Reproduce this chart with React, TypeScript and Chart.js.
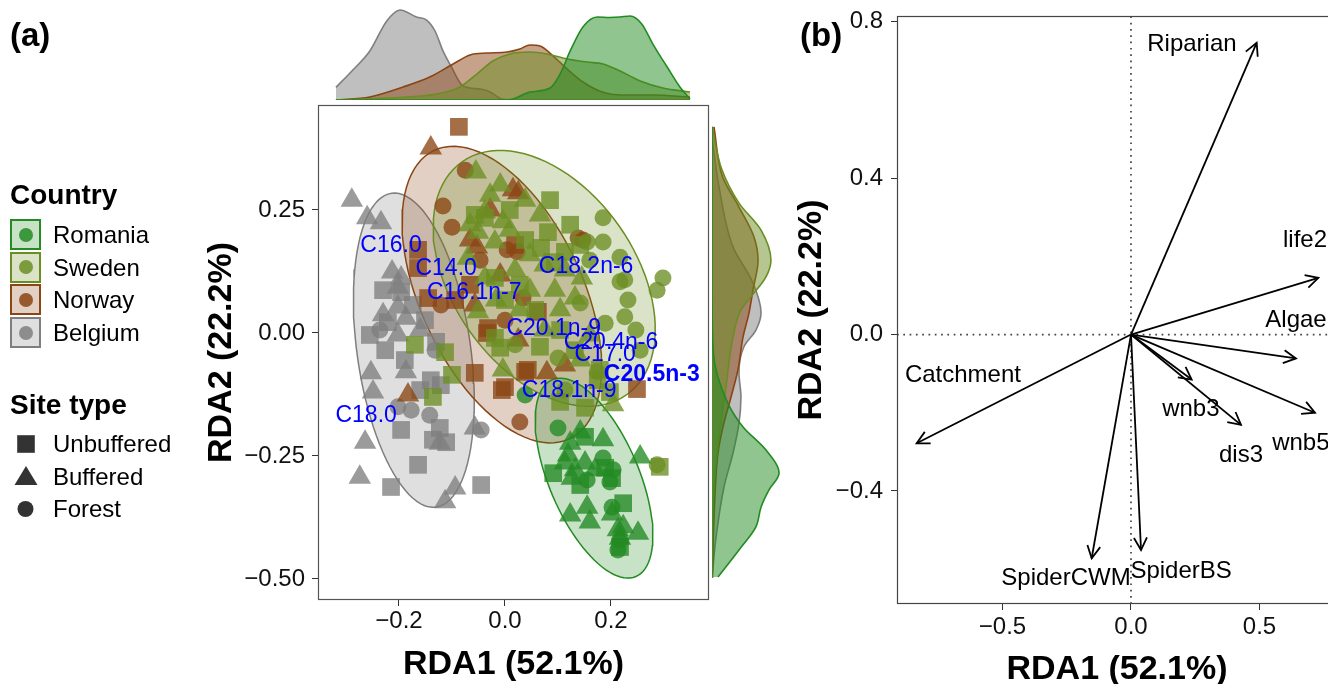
import React, { useEffect, useRef } from "react";
import { Chart, registerables } from "chart.js";

Chart.register(...registerables);

const FONT = "'Liberation Sans', Arial, Helvetica, sans-serif";
Chart.defaults.font.family = FONT;

type Pair = [number, number];

// ---------------- Panel (a): site scores (RDA1, RDA2) ----------------
const romaniaUnbuffered: Pair[] = [[0.091,-0.285],[0.142,-0.309],[0.189,-0.274],[0.223,-0.346],[0.217,-0.435],[0.151,-0.211],[0.202,-0.295]];
const romaniaBuffered: Pair[] = [[0.142,-0.201],[0.185,-0.217],[0.123,-0.224],[0.119,-0.248],[0.113,-0.264],[0.132,-0.278],[0.151,-0.264],[0.170,-0.278],[0.126,-0.295],[0.255,-0.252],[0.123,-0.370],[0.155,-0.354],[0.160,-0.384],[0.213,-0.400],[0.223,-0.394],[0.251,-0.407],[0.217,-0.417],[0.202,-0.368]];
const romaniaForest: Pair[] = [[0.100,-0.193],[0.185,-0.254],[0.204,-0.278],[0.155,-0.299],[0.198,-0.303],[0.202,-0.354],[0.213,-0.441],[0.038,-0.126],[0.217,-0.421]];

const swedenUnbuffered: Pair[] = [[-0.057,0.240],[-0.038,0.234],[-0.019,0.112],[-0.019,-0.010],[0.081,0.205],[0.068,0.173],[0.113,0.165],[-0.170,-0.024],[-0.113,-0.039],[-0.100,-0.085],[-0.136,-0.130],[-0.009,-0.030],[0.066,-0.028],[0.151,-0.152],[0.104,-0.140],[0.292,-0.272],[0.009,0.250],[0.038,0.189],[0.094,0.144],[0.028,0.098],[0.000,0.067],[0.057,0.047],[0.104,0.006],[0.132,-0.035],[0.179,-0.075],[0.175,-0.096],[0.085,0.270],[0.123,0.220],[0.142,0.179],[0.198,-0.120]];
const swedenBuffered: Pair[] = [[-0.055,0.327],[-0.009,0.301],[-0.038,0.246],[-0.004,0.226],[-0.051,0.205],[-0.019,0.185],[-0.070,0.152],[-0.038,0.112],[-0.051,0.043],[-0.004,-0.075],[0.204,-0.146],[0.145,0.112],[0.132,0.071],[0.038,0.270],[0.066,0.240],[0.047,0.159],[0.019,0.128],[0.094,0.087],[0.104,0.047],[0.075,0.006],[0.028,0.047],[0.160,-0.004],[0.009,0.209],[0.047,0.087],[0.113,0.128],[-0.066,0.220],[-0.028,0.280],[0.142,-0.055],[-0.017,0.067],[0.075,0.138]];
const swedenForest: Pair[] = [[0.185,0.234],[0.155,0.185],[0.217,0.154],[0.217,0.104],[0.226,0.108],[0.298,0.112],[0.287,0.087],[0.226,0.033],[0.189,0.020],[0.142,0.061],[0.100,-0.051],[0.174,-0.079],[0.287,-0.268],[0.185,0.185],[0.232,0.067],[0.247,0.006],[0.255,-0.035],[0.160,0.148],[0.019,-0.024],[0.113,-0.116]];

const norwayUnbuffered: Pair[] = [[-0.087,0.419],[-0.164,0.169],[-0.164,0.132],[-0.145,0.071],[-0.032,0.010],[0.019,0.179],[0.062,0.043],[-0.057,-0.081],[-0.006,-0.116],[0.038,-0.079],[0.000,-0.110],[0.249,-0.114],[-0.034,0.000],[0.043,-0.075],[-0.066,0.098],[-0.094,0.067]];
const norwayBuffered: Pair[] = [[-0.140,0.376],[-0.066,0.189],[-0.053,0.175],[0.015,0.291],[0.025,0.285],[-0.057,0.057],[0.025,-0.014],[0.079,-0.081],[0.113,-0.065],[-0.183,-0.126],[-0.009,0.118],[-0.028,0.250]];
const norwayForest: Pair[] = [[-0.075,0.331],[-0.117,0.258],[-0.100,0.215],[0.004,0.169],[0.023,0.165],[0.138,0.193],[0.147,0.189],[-0.121,0.057],[0.034,0.071],[0.028,-0.181],[0.000,0.026],[-0.047,0.148]];

const belgiumUnbuffered: Pair[] = [[-0.230,0.087],[-0.196,0.083],[-0.174,0.057],[-0.255,-0.004],[-0.226,-0.035],[-0.189,-0.055],[-0.140,-0.096],[-0.121,-0.106],[-0.196,-0.197],[-0.123,-0.193],[-0.136,-0.217],[-0.111,-0.222],[-0.164,-0.268],[-0.215,-0.313],[-0.045,-0.309],[-0.151,0.026],[-0.130,-0.018],[-0.221,0.022],[-0.160,-0.116]];
const belgiumBuffered: Pair[] = [[-0.289,0.270],[-0.260,0.234],[-0.234,0.224],[-0.213,0.124],[-0.196,0.112],[-0.202,0.093],[-0.230,0.037],[-0.202,0.053],[-0.187,0.030],[-0.202,-0.004],[-0.253,-0.081],[-0.249,-0.120],[-0.187,-0.079],[-0.264,-0.222],[-0.274,-0.293],[-0.123,-0.224],[-0.094,-0.315],[-0.113,-0.343],[-0.057,-0.193],[-0.160,0.006]];
const belgiumForest: Pair[] = [[-0.202,-0.150],[-0.177,-0.157],[-0.142,-0.167],[-0.045,-0.197],[-0.236,0.006],[-0.132,-0.035]];

// countries (legend order) and colours
const countries = ["Romania", "Sweden", "Norway", "Belgium"];
const countryColours: number[][] = [[34, 139, 34], [107, 142, 35], [139, 69, 19], [127, 127, 127]];
const siteTypes = ["Unbuffered", "Buffered", "Forest"];

// 95% ellipses: centre, semi-major vector, semi-minor vector (data units)
const ellipseCentres: Pair[] = [[0.168, -0.295], [0.074, 0.111], [-0.006, 0.078], [-0.172, -0.035]];
const ellipseMajor: Pair[] = [[0.079, -0.200], [0.155, -0.237], [0.128, -0.293], [0.042, -0.319]];
const ellipseMinor: Pair[] = [[0.078, 0.036], [0.141, 0.107], [0.138, 0.071], [0.106, 0.016]];

// fatty-acid labels
const fattyAcidNames = ["C16.0", "C14.0", "C16.1n-7", "C18.2n-6", "C20.1n-9", "C20.4n-6", "C17.0", "C20.5n-3", "C18.1n-9", "C18.0"];
const fattyAcidX = [-0.215, -0.111, -0.058, 0.153, 0.092, 0.200, 0.189, 0.277, 0.121, -0.262];
const fattyAcidY = [0.178, 0.130, 0.083, 0.134, 0.008, -0.020, -0.045, -0.085, -0.118, -0.169];
const fattyAcidBold = [false, false, false, false, false, false, false, true, false, false];

// marginal densities along RDA1 (x, density)
const topDensityRomania: Pair[] = [[-0.319,0],[-0.009,0],[0.015,0.07],[0.047,0.53],[0.085,0.8],[0.104,1.73],[0.123,3.27],[0.147,4.87],[0.174,5.53],[0.198,5.5],[0.217,5.53],[0.236,5.6],[0.258,5.07],[0.279,3.73],[0.306,2.2],[0.330,0.87],[0.349,0.07]];
const topDensitySweden: Pair[] = [[-0.319,0],[-0.223,0.13],[-0.128,0.4],[-0.085,0.87],[-0.053,1.73],[-0.023,2.6],[0.009,3.07],[0.047,3.2],[0.079,3.07],[0.117,2.73],[0.155,2.53],[0.185,2.4],[0.217,1.93],[0.255,1.27],[0.298,0.8],[0.349,0.53]];
const topDensityNorway: Pair[] = [[-0.319,0],[-0.255,0.2],[-0.192,0.87],[-0.142,1.53],[-0.098,2.4],[-0.066,3.0],[-0.034,3.13],[0.004,3.2],[0.028,3.4],[0.047,3.67],[0.066,3.6],[0.091,2.93],[0.117,2.07],[0.147,1.2],[0.185,0.51],[0.217,0.33],[0.279,0.33],[0.349,0.2]];
const topDensityBelgium: Pair[] = [[-0.319,0.84],[-0.287,2.0],[-0.255,3.27],[-0.223,5.27],[-0.198,6.0],[-0.167,5.53],[-0.148,5.33],[-0.132,4.6],[-0.117,3.27],[-0.101,2.2],[-0.079,0.93],[-0.047,0.73],[-0.028,0.53],[-0.006,0.07],[0.028,0],[0.349,0]];

// marginal densities along RDA2 (y, density)
const rightDensityRomania: Pair[] = [[0.419,0],[0.093,0],[-0.041,0.09],[-0.142,1.05],[-0.191,2.07],[-0.238,3.6],[-0.285,4.47],[-0.319,3.8],[-0.354,3.27],[-0.394,2.93],[-0.441,1.8],[-0.496,0.4]];
const rightDensitySweden: Pair[] = [[0.419,0],[0.331,0.67],[0.264,1.8],[0.209,3.27],[0.148,3.93],[0.114,3.6],[0.081,2.8],[0.047,1.93],[-0.008,1.4],[-0.110,0.93],[-0.211,0.47],[-0.313,0.13],[-0.498,0]];
const rightDensityNorway: Pair[] = [[0.419,0.13],[0.317,0.71],[0.256,1.8],[0.195,2.8],[0.148,3.07],[0.087,2.73],[0.041,2.47],[-0.008,2.07],[-0.075,1.73],[-0.130,1.27],[-0.191,0.73],[-0.244,0.4],[-0.380,0.13],[-0.498,0.03]];
const rightDensityBelgium: Pair[] = [[0.398,0],[0.297,0.47],[0.175,1.4],[0.102,2.73],[0.041,3.27],[0.006,2.93],[-0.028,2.13],[-0.081,1.8],[-0.130,1.93],[-0.183,1.8],[-0.244,1.4],[-0.313,0.8],[-0.415,0.27],[-0.498,0]];

// axes of panel (a)
const aXRange: Pair = [-0.3528, 0.3849];
const aYRange: Pair = [-0.5427, 0.4634];
const aXTicks = [-0.2, 0, 0.2];
const aXTickLabels = ["\u22120.2", "0.0", "0.2"];
const aYTicks = [-0.5, -0.25, 0, 0.25];
const aYTickLabels = ["\u22120.50", "\u22120.25", "0.00", "0.25"];

// ---------------- Panel (b): biplot arrows ----------------
const arrowNames = ["Riparian", "life2", "Algae", "Catchment", "SpiderCWM", "SpiderBS", "wnb3", "dis3", "wnb5"];
const arrowX = [0.489, 0.729, 0.642, -0.834, -0.153, 0.039, 0.236, 0.428, 0.716];
const arrowY = [0.746, 0.145, -0.061, -0.278, -0.572, -0.551, -0.115, -0.231, -0.200];
const arrowLabelX = [0.237, 0.677, 0.642, -0.654, -0.253, 0.195, 0.233, 0.428, 0.661];
const arrowLabelY = [0.743, 0.242, 0.037, -0.104, -0.623, -0.605, -0.191, -0.308, -0.277];

const bXRange: Pair = [-0.9105, 0.8016];
const bYRange: Pair = [-0.689, 0.8146];
const bXTicks = [-0.5, 0, 0.5];
const bXTickLabels = ["\u22120.5", "0.0", "0.5"];
const bYTicks = [-0.4, 0, 0.4, 0.8];
const bYTickLabels = ["\u22120.4", "0.0", "0.4", "0.8"];

// ------------------------------------------------------------
const rgba = (c: number[], a: number) => `rgba(${c[0]},${c[1]},${c[2]},${a})`;
const toXY = (arr: Pair[]) => arr.map(([x, y]) => ({ x, y }));

function ellipseOutline(c: Pair, M: Pair, m: Pair, steps = 96) {
  const pts: { x: number; y: number }[] = [];
  for (let k = 0; k <= steps; k++) {
    const t = (2 * Math.PI * k) / steps;
    pts.push({ x: c[0] + M[0] * Math.cos(t) + m[0] * Math.sin(t), y: c[1] + M[1] * Math.cos(t) + m[1] * Math.sin(t) });
  }
  return pts;
}

const fmt = (vals: number[], labels: string[]) => (v: any) => {
  const i = vals.findIndex((t) => Math.abs(t - Number(v)) < 1e-9);
  return i >= 0 ? labels[i] : "";
};

function axis(range: Pair, tickVals: number[], tickLabels: string[], title: string, size: number, isX: boolean, pad: number) {
  return {
    type: "linear" as const,
    min: range[0],
    max: range[1],
    afterBuildTicks: (s: any) => {
      s.ticks = tickVals.map((v) => ({ value: v }));
    },
    afterFit: (s: any) => {
      if (isX) s.height = size;
      else s.width = size;
      s.paddingTop = 0;
      s.paddingBottom = 0;
      s.paddingLeft = 0;
      s.paddingRight = 0;
    },
    ticks: {
      callback: fmt(tickVals, tickLabels),
      font: { size: 24, family: FONT },
      color: "#111",
      padding: pad,
      autoSkip: false,
      maxRotation: 0,
      minRotation: 0,
    },
    grid: { drawOnChartArea: false, drawTicks: true, tickLength: 6, color: "#333", lineWidth: 1 },
    border: { display: false },
    title: { display: true, text: title, font: { size: 34, weight: "bold" as const, family: FONT }, color: "#000", padding: 0 },
  };
}

const framePlugin = (colour: string) => ({
  id: "frame",
  afterDraw(chart: any) {
    const { ctx, chartArea: a } = chart;
    ctx.save();
    ctx.strokeStyle = colour;
    ctx.lineWidth = 1.2;
    ctx.strokeRect(a.left + 0.5, a.top + 0.5, a.width - 1, a.height - 1);
    ctx.restore();
  },
});

const shapeOf = ["rect", "triangle", "circle"];
const radiusOf = [12.5, 13, 8.5];
const countrySeries: Pair[][][] = [
  [romaniaUnbuffered, romaniaBuffered, romaniaForest],
  [swedenUnbuffered, swedenBuffered, swedenForest],
  [norwayUnbuffered, norwayBuffered, norwayForest],
  [belgiumUnbuffered, belgiumBuffered, belgiumForest],
];
const topDensities = [topDensityRomania, topDensitySweden, topDensityNorway, topDensityBelgium];
const rightDensities = [rightDensityRomania, rightDensitySweden, rightDensityNorway, rightDensityBelgium];

const baseOptions = {
  animation: false as const,
  responsive: false,
  events: [] as any[],
  plugins: { legend: { display: false }, tooltip: { enabled: false } },
};

export default function App() {
  const mainRef = useRef<HTMLCanvasElement>(null);
  const topRef = useRef<HTMLCanvasElement>(null);
  const rightRef = useRef<HTMLCanvasElement>(null);
  const bRef = useRef<HTMLCanvasElement>(null);

  useEffect(() => {
    const charts: Chart[] = [];

    // ---- main scatter ----
    const pointSets: any[] = [];
    countries.forEach((name, ci) => {
      countrySeries[ci].forEach((series, si) => {
        pointSets.push({
          label: `${name} ${siteTypes[si]}`,
          data: toXY(series),
          pointStyle: shapeOf[si],
          pointRadius: radiusOf[si],
          pointBackgroundColor: rgba(countryColours[ci], 0.78),
          pointBorderWidth: 0,
          order: 0,
        });
      });
    });
    const ellipseSets = countries.map((name, ci) => ({
      label: `${name} ellipse`,
      data: ellipseOutline(ellipseCentres[ci], ellipseMajor[ci], ellipseMinor[ci]),
      showLine: true,
      pointRadius: 0,
      borderColor: rgba(countryColours[ci], 1),
      borderWidth: 1.5,
      backgroundColor: rgba(countryColours[ci], 0.25),
      fill: "shape",
      tension: 0,
      order: 1,
    }));

    const labelPlugin = {
      id: "faLabels",
      afterDatasetsDraw(chart: any) {
        const { ctx, scales } = chart;
        ctx.save();
        ctx.fillStyle = "#0000ff";
        ctx.textAlign = "center";
        ctx.textBaseline = "middle";
        fattyAcidNames.forEach((n, i) => {
          ctx.font = `${fattyAcidBold[i] ? "bold " : ""}23px ${FONT}`;
          ctx.fillText(n, scales.x.getPixelForValue(fattyAcidX[i]), scales.y.getPixelForValue(fattyAcidY[i]));
        });
        ctx.restore();
      },
    };

    charts.push(
      new Chart(mainRef.current!, {
        type: "scatter",
        data: { datasets: [...pointSets, ...ellipseSets] as any },
        options: {
          ...baseOptions,
          layout: { padding: { left: 201.6, top: 105, right: 51, bottom: 5 }, autoPadding: false },
          scales: {
            x: axis(aXRange, aXTicks, aXTickLabels, "RDA1 (52.1%)", 85, true, 1),
            y: axis(aYRange, aYTicks, aYTickLabels, "RDA2 (22.2%)", 116.4, false, 7),
          },
        } as any,
        plugins: [framePlugin("#555"), labelPlugin],
      })
    );

    // ---- top marginal density ----
    charts.push(
      new Chart(topRef.current!, {
        type: "line",
        data: {
          datasets: countries.map((name, ci) => ({
            label: name,
            data: toXY(topDensities[ci]),
            borderColor: rgba(countryColours[ci], 1),
            backgroundColor: rgba(countryColours[ci], 0.5),
            borderWidth: 1.6,
            pointRadius: 0,
            fill: "origin",
            cubicInterpolationMode: "monotone",
          })) as any,
        },
        options: {
          ...baseOptions,
          layout: { padding: 0, autoPadding: false },
          scales: {
            x: { type: "linear", display: false, min: aXRange[0], max: aXRange[1] },
            y: { type: "linear", display: false, min: 0, max: 100 / 15 },
          },
        } as any,
      })
    );

    // ---- right marginal density ----
    charts.push(
      new Chart(rightRef.current!, {
        type: "line",
        data: {
          datasets: countries.map((name, ci) => ({
            label: name,
            data: rightDensities[ci].map(([y, d]) => ({ x: d, y })),
            borderColor: rgba(countryColours[ci], 1),
            backgroundColor: rgba(countryColours[ci], 0.5),
            borderWidth: 1.6,
            pointRadius: 0,
            fill: "origin",
            cubicInterpolationMode: "monotone",
          })) as any,
        },
        options: {
          ...baseOptions,
          indexAxis: "y",
          layout: { padding: 0, autoPadding: false },
          scales: {
            x: { type: "linear", display: false, min: 0, max: 80 / 15 },
            y: { type: "linear", display: false, min: aYRange[0], max: aYRange[1] },
          },
        } as any,
      })
    );

    // ---- panel (b) biplot ----
    const refLines = [
      { label: "x0", data: [{ x: 0, y: bYRange[0] }, { x: 0, y: bYRange[1] }] },
      { label: "y0", data: [{ x: bXRange[0], y: 0 }, { x: bXRange[1], y: 0 }] },
    ].map((d) => ({
      ...d,
      showLine: true,
      pointRadius: 0,
      borderColor: "#444",
      borderWidth: 1.7,
      borderDash: [1.7, 4.6],
      order: 2,
    }));
    const shafts = arrowNames.map((n, i) => ({
      label: n,
      data: [{ x: 0, y: 0 }, { x: arrowX[i], y: arrowY[i] }],
      showLine: true,
      pointRadius: 0,
      borderColor: "#000",
      borderWidth: 1.8,
      order: 1,
    }));
    const arrowPlugin = {
      id: "arrows",
      afterDatasetsDraw(chart: any) {
        const { ctx, scales } = chart;
        const { x, y } = scales;
        ctx.save();
        ctx.strokeStyle = "#000";
        ctx.lineWidth = 1.8;
        ctx.lineJoin = "miter";
        const x0 = x.getPixelForValue(0);
        const y0 = y.getPixelForValue(0);
        arrowNames.forEach((_, i) => {
          const x1 = x.getPixelForValue(arrowX[i]);
          const y1 = y.getPixelForValue(arrowY[i]);
          const ang = Math.atan2(y1 - y0, x1 - x0);
          const L = 14;
          const spread = Math.PI / 6.5;
          ctx.beginPath();
          ctx.moveTo(x1 - L * Math.cos(ang - spread), y1 - L * Math.sin(ang - spread));
          ctx.lineTo(x1, y1);
          ctx.lineTo(x1 - L * Math.cos(ang + spread), y1 - L * Math.sin(ang + spread));
          ctx.stroke();
        });
        ctx.fillStyle = "#000";
        ctx.font = `24px ${FONT}`;
        ctx.textAlign = "center";
        ctx.textBaseline = "middle";
        arrowNames.forEach((n, i) => {
          ctx.fillText(n, x.getPixelForValue(arrowLabelX[i]), y.getPixelForValue(arrowLabelY[i]));
        });
        ctx.restore();
      },
    };

    charts.push(
      new Chart(bRef.current!, {
        type: "scatter",
        data: { datasets: [...shafts, ...refLines] as any },
        options: {
          ...baseOptions,
          layout: { padding: { left: 31.6, top: 16, right: 23, bottom: 1.6 }, autoPadding: false },
          scales: {
            x: axis(bXRange, bXTicks, bXTickLabels, "RDA1 (52.1%)", 86.4, true, 3),
            y: axis(bYRange, bYTicks, bYTickLabels, "RDA2 (22.2%)", 105.4, false, 8),
          },
        } as any,
        plugins: [framePlugin("#444"), arrowPlugin],
      })
    );

    return () => charts.forEach((c) => c.destroy());
  }, []);

  const abs = (l: number, t: number, extra: any = {}) => ({ position: "absolute" as const, left: l, top: t, ...extra });
  const text = { fontFamily: FONT, color: "#000", whiteSpace: "nowrap" as const };

  return (
    <div style={{ position: "fixed", left: 0, top: 0, width: 1328, height: 684, overflow: "hidden", background: "#fff" }}>
      <canvas ref={topRef} width={391} height={100} style={abs(318, 0, { width: 391, height: 100 })} />
      <canvas ref={rightRef} width={80} height={495} style={abs(712, 105, { width: 80, height: 495 })} />
      <canvas ref={mainRef} width={760} height={690} style={abs(0, 0, { width: 760, height: 690 })} />
      <canvas ref={bRef} width={600} height={692} style={abs(760, 0, { width: 600, height: 692 })} />

      <div style={abs(10, 16, { ...text, fontSize: 33, fontWeight: "bold", lineHeight: "38px" })}>(a)</div>
      <div style={abs(800, 16, { ...text, fontSize: 33, fontWeight: "bold", lineHeight: "38px" })}>(b)</div>

      <div style={abs(10, 178, { ...text, fontSize: 28, fontWeight: "bold", lineHeight: "34px" })}>Country</div>
      {countries.map((name, ci) => {
        const top = 219 + ci * 32.7;
        const c = countryColours[ci];
        return (
          <React.Fragment key={name}>
            <div
              style={abs(10, top, {
                width: 31,
                height: 31,
                boxSizing: "border-box",
                border: `2px solid ${rgba(c, 1)}`,
                background: rgba(c, 0.25),
              })}
            >
              <div
                style={{
                  position: "absolute",
                  left: 6.5,
                  top: 6.5,
                  width: 14,
                  height: 14,
                  borderRadius: "50%",
                  background: rgba(c, 0.85),
                }}
              />
            </div>
            <div style={abs(53, top + 1, { ...text, fontSize: 24, lineHeight: "29px" })}>{name}</div>
          </React.Fragment>
        );
      })}

      <div style={abs(10, 388, { ...text, fontSize: 28, fontWeight: "bold", lineHeight: "34px" })}>Site type</div>
      {siteTypes.map((name, si) => {
        const cy = 443.5 + si * 32.7;
        return (
          <React.Fragment key={name}>
            <svg style={abs(13, cy - 13, { width: 26, height: 26 })} width={26} height={26}>
              {si === 0 && <rect x={4.2} y={4.2} width={17.6} height={17.6} fill="#333" />}
              {si === 1 && <polygon points="13,3 24.5,22 1.5,22" fill="#333" />}
              {si === 2 && <circle cx={12.5} cy={13} r={8} fill="#333" />}
            </svg>
            <div style={abs(53, cy - 14.5, { ...text, fontSize: 24, lineHeight: "29px" })}>{name}</div>
          </React.Fragment>
        );
      })}
    </div>
  );
}
